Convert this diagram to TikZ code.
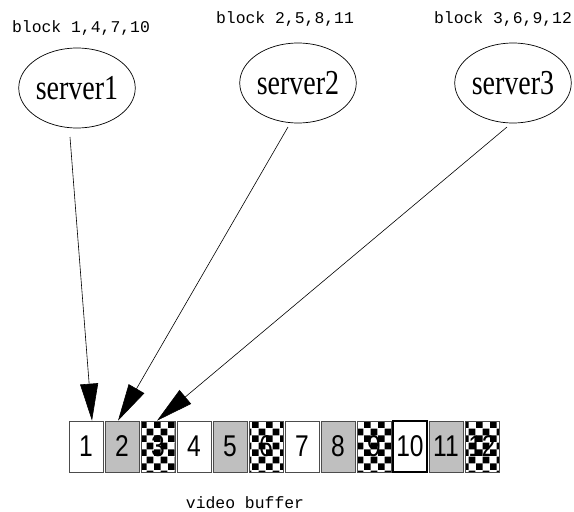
\documentclass[tikz,border=0pt]{standalone}
\usepackage{fontspec}
\usetikzlibrary{arrows.meta,shapes.geometric,patterns.meta}
\newfontfamily\serverfont[FakeStretch=0.8]{Liberation Serif}
\newfontfamily\digitfont[FakeStretch=0.82]{Liberation Sans}
\newfontfamily\labelfont{Liberation Mono}

\tikzdeclarepattern{
	name=bigchecker,
	type=uncolored,
	bounding box={(0pt,0pt) and (14pt,14pt)},
	tile size={(14pt,14pt)},
	code={
		\fill (0pt,0pt) rectangle (7pt,7pt);
		\fill (7pt,7pt) rectangle (14pt,14pt);
	}
}

\begin{document}
\begin{tikzpicture}[x=1pt,y=-1pt,>={Triangle[length=37pt,width=18pt]},
		node distance=36pt,
		server node/.style={ellipse,draw,line width=0.7pt,minimum width=112pt,minimum height=80pt,inner sep=0pt,font=\serverfont\fontsize{35}{35}\selectfont},
		block label/.style={font=\labelfont\fontsize{16.4}{16.4}\selectfont},
		buf node/.style={rectangle,draw=black!70,line width=0.6pt,minimum width=34pt,minimum height=51pt,inner sep=0pt,font=\digitfont\fontsize{30}{30}\selectfont},
		white buf/.style={buf node,fill=white},
		gray buf/.style={buf node,fill=black!25},
		check buf/.style={buf node,pattern=bigchecker,pattern color=black}]
	\useasboundingbox (0,0) rectangle (574,512);
	% servers
	\node[block label] (l1) at (81,28) {block 1,4,7,10};
	\node[block label] (l2) at (285,19) {block 2,5,8,11};
	\node[block label] (l3) at (503,19) {block 3,6,9,12};
	\node[server node] (server1) at (77,88) {server1};
	\node[server node] (server2) at (298,83) {server2};
	\node[server node] (server3) at (513,83) {server3};
	% video buffer
	\node[white buf] (b1) at (86,446.5) {1};
	\node[gray buf] (b2) [right of=b1] {2};
	\node[check buf] (b3) [right of=b2] {3};
	\node[white buf] (b4) [right of=b3] {4};
	\node[gray buf] (b5) [right of=b4] {5};
	\node[check buf] (b6) [right of=b5] {6};
	\node[white buf] (b7) [right of=b6] {7};
	\node[gray buf] (b8) [right of=b7] {8};
	\node[check buf] (b9) [right of=b8] {9};
	\node[white buf,draw=black,line width=2.5pt] (b10) [right of=b9] {10};
	\node[gray buf] (b11) [right of=b10] {11};
	\node[check buf] (b12) [right of=b11] {12};
	\node[block label] (vb) at (245,503) {video buffer};
	% arrows
	\coordinate (s1) at (70,137);
	\coordinate (s2) at (288,127);
	\coordinate (s3) at (507,127);
	\draw[->,line width=0.6pt] (s1) -- ([xshift=6pt]b1.north);
	\draw[->,line width=0.6pt] (s2) -- ([xshift=-4pt]b2.north);
	\draw[->,line width=0.6pt] (s3) -- ([xshift=-1pt]b3.north);
\end{tikzpicture}
\end{document}
